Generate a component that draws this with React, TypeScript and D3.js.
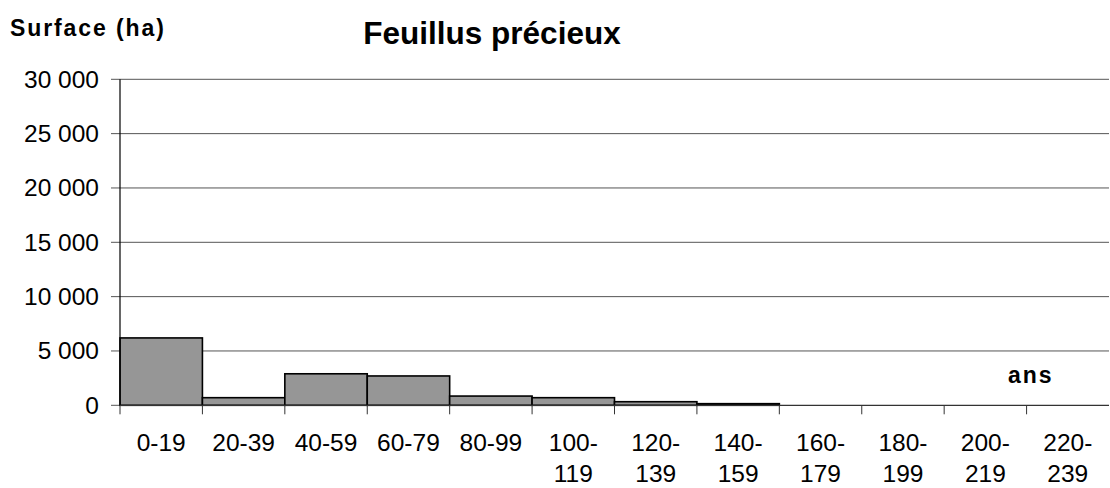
import React from "react";
import * as d3 from "d3";

const categories = ["0-19", "20-39", "40-59", "60-79", "80-99", "100-119", "120-139", "140-159", "160-179", "180-199", "200-219", "220-239"];
const values = [6200, 700, 2900, 2700, 850, 700, 330, 150, 0, 0, 0, 0];
const yTicks = [0, 5000, 10000, 15000, 20000, 25000, 30000];
const title = "Feuillus précieux";
const yTitle = "Surface (ha)";
const xTitle = "ans";

const font = "'Liberation Sans', Arial, sans-serif";

function splitLabel(c: string): string[] {
  const i = c.indexOf("-");
  const left = c.slice(0, i);
  if (left.length >= 3) return [left + "-", c.slice(i + 1)];
  return [c];
}

export default function App() {
  const W = 1110, H = 488;
  const left = 120, right = 1109, top = 79.3, bottom = 405.3;
  const x = d3.scaleBand<string>().domain(categories).range([left, right]).padding(0);
  const y = d3.scaleLinear().domain([0, 30000]).range([bottom, top]);
  const fmt = (v: number) => d3.format(",")(v).replace(/,/g, " ");
  return (
    <svg width={W} height={H} style={{ position: "absolute", left: 0, top: 0, background: "#fff" }}>
      <rect x={0} y={0} width={W} height={H} fill="#fff" />
      <text x={492} y={44} textAnchor="middle" fontFamily={font} fontWeight="bold" fontSize={31.5}>{title}</text>
      <text x={10} y={36} fontFamily={font} fontWeight="bold" fontSize={23} letterSpacing={1.9}>{yTitle}</text>
      {yTicks.map((t) => (
        <g key={t}>
          {t > 0 && <line x1={left} x2={right} y1={y(t)} y2={y(t)} stroke="#555" strokeWidth={1} />}
          <line x1={111} x2={left} y1={y(t)} y2={y(t)} stroke="#555" strokeWidth={1} />
          <text x={99} y={y(t) + 8.5} textAnchor="end" fontFamily={font} fontSize={24.5}>{fmt(t)}</text>
        </g>
      ))}
      {categories.map((c, i) => (
        <rect key={c} x={x(c)!} y={y(values[i])} width={x.bandwidth()} height={bottom - y(values[i])}
          fill="#969696" stroke="#000" strokeWidth={1.6} />
      ))}
      <line x1={left} x2={left} y1={top} y2={bottom} stroke="#000" strokeWidth={1.2} />
      <line x1={left} x2={right} y1={bottom} y2={bottom} stroke="#333" strokeWidth={1.2} />
      {categories.map((c, i) => (
        <line key={"t" + c} x1={left + i * x.bandwidth()} x2={left + i * x.bandwidth()} y1={bottom} y2={bottom + 9} stroke="#333" strokeWidth={1} />
      ))}
      {categories.map((c) => {
        const parts = splitLabel(c);
        const cx = x(c)! + x.bandwidth() / 2;
        return (
          <text key={"l" + c} x={cx} y={451} textAnchor="middle" fontFamily={font} fontSize={24.5}>
            {parts.map((p, j) => (
              <tspan key={j} x={cx} dy={j === 0 ? 0 : 30.5}>{p}</tspan>
            ))}
          </text>
        );
      })}
      <text x={1008} y={383} fontFamily={font} fontWeight="bold" fontSize={23} letterSpacing={1.9}>{xTitle}</text>
    </svg>
  );
}
